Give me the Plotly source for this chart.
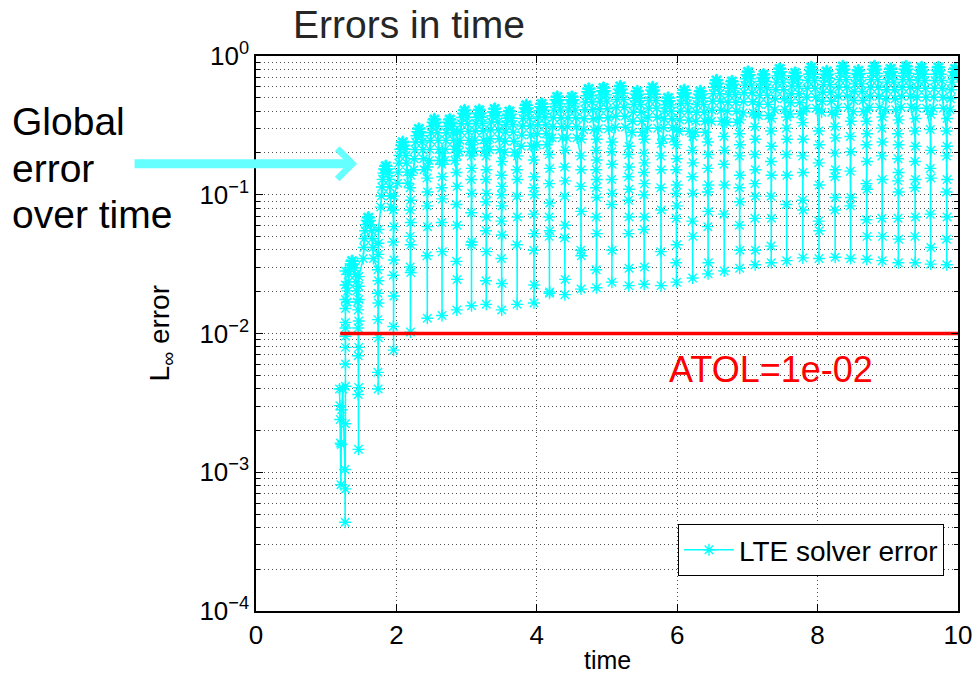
import plotly.graph_objects as go

# ---------------------------------------------------------------------------
# Data: L-infinity error of the LTE-controlled solver over time
# (all error levels are stored as log10 exponents)
# ---------------------------------------------------------------------------

# start-up transient just after t = 1.2
start_t = [1.19, 1.195, 1.20, 1.205, 1.21, 1.215, 1.22, 1.235]
start_log = [-2.40, -2.52, -2.62, -2.79, -3.09, -2.80, -2.55, -2.40]

# time and level of each error minimum (trough)
trough_t = [1.27, 1.46, 1.74, 1.96, 2.20, 2.44, 2.65, 2.86, 3.07, 3.28,
            3.50, 3.72, 3.96, 4.18, 4.40, 4.63, 4.85, 5.07, 5.31, 5.53,
            5.77, 5.99, 6.22, 6.44, 6.67, 6.89, 7.11, 7.34, 7.56, 7.79,
            8.02, 8.25, 8.47, 8.70, 8.92, 9.15, 9.39, 9.61, 9.84]
trough_log = [-3.36, -2.835, -2.40, -2.12, -1.99, -1.89, -1.87, -1.83, -1.80, -1.79,
              -1.83, -1.79, -1.78, -1.71, -1.72, -1.68, -1.67, -1.63, -1.655, -1.645,
              -1.655, -1.63, -1.60, -1.57, -1.55, -1.53, -1.505, -1.49, -1.475, -1.455,
              -1.46, -1.45, -1.46, -1.465, -1.475, -1.49, -1.49, -1.50, -1.505]

# time and level of each error maximum (peak) following a trough
peak_t = [1.37, 1.60, 1.85, 2.09, 2.32, 2.54, 2.76, 2.97, 3.18, 3.40,
          3.61, 3.85, 4.07, 4.29, 4.50, 4.74, 4.95, 5.19, 5.43, 5.65,
          5.87, 6.10, 6.33, 6.56, 6.78, 7.01, 7.23, 7.46, 7.68, 7.91,
          8.13, 8.36, 8.58, 8.81, 9.04, 9.26, 9.48, 9.72, 9.96]
peak_log = [-1.473, -1.160, -0.789, -0.617, -0.520, -0.453, -0.453, -0.388, -0.386, -0.376,
            -0.394, -0.350, -0.340, -0.290, -0.290, -0.232, -0.225, -0.214, -0.250, -0.221,
            -0.297, -0.242, -0.250, -0.171, -0.178, -0.110, -0.129, -0.088, -0.117, -0.077,
            -0.106, -0.070, -0.101, -0.070, -0.088, -0.070, -0.077, -0.077, -0.088]

# intermediate step errors recorded around each trough (small time steps)
column_log = [
    [-1.55, -1.65, -1.755, -1.82, -1.92, -1.96, -2.02, -2.10, -2.22, -2.38, -2.65, -2.98, -3.12],
    [-1.59, -1.66, -1.755, -1.83, -1.91, -1.96, -2.10, -2.16, -2.39, -2.44],
    [-1.25, -1.35, -1.43, -1.54, -1.62, -1.71, -1.78, -1.90, -2.03, -2.28],
    [-1.01, -1.11, -1.23, -1.34, -1.47, -1.58, -1.73, -1.95],
    [-0.86, -0.95, -1.04, -1.11, -1.20, -1.30, -1.36, -1.52, -1.56],
    [-0.80, -0.88, -0.98, -1.08, -1.23, -1.44],
    [-0.70, -0.78, -0.87, -0.95, -1.03, -1.20, -1.41],
    [-0.55, -0.65, -0.72, -0.84, -0.94, -1.07, -1.22, -1.48, -1.61],
    [-0.64, -0.72, -0.81, -0.89, -0.99, -1.13, -1.34, -1.36],
    [-0.63, -0.72, -0.82, -0.89, -0.99, -1.05, -1.16, -1.26, -1.41, -1.62],
    [-0.76, -0.86, -0.94, -1.00, -1.08, -1.19, -1.29, -1.46, -1.64],
    [-0.72, -0.82, -0.89, -1.01, -1.16, -1.36],
    [-0.65, -0.75, -0.87, -0.95, -1.00, -1.14, -1.28, -1.40, -1.65],
    [-0.59, -0.71, -0.81, -0.92, -1.06, -1.16, -1.26, -1.30, -1.70],
    [-0.68, -0.80, -0.90, -1.01, -1.22, -1.31, -1.61],
    [-0.60, -0.72, -0.82, -0.94, -1.12, -1.40, -1.44],
    [-0.60, -0.68, -0.75, -0.82, -0.89, -0.95, -1.02, -1.16, -1.28, -1.54],
    [-0.62, -0.69, -0.78, -0.89, -0.99, -1.07, -1.40],
    [-0.65, -0.71, -0.80, -0.87, -0.96, -1.04, -1.16, -1.28, -1.53],
    [-0.60, -0.70, -0.77, -0.84, -0.92, -1.00, -1.16, -1.25, -1.52],
    [-0.63, -0.72, -0.82, -0.95, -1.11, -1.41],
    [-0.53, -0.64, -0.74, -0.82, -0.93, -0.99, -1.08, -1.17, -1.36, -1.49],
    [-0.58, -0.68, -0.77, -0.87, -0.99, -1.19, -1.30],
    [-0.46, -0.62, -0.71, -0.81, -0.93, -0.98, -1.12, -1.23, -1.49],
    [-0.47, -0.58, -0.68, -0.78, -0.93, -1.14],
    [-0.46, -0.56, -0.64, -0.72, -0.86, -0.95, -1.05, -1.22, -1.40],
    [-0.42, -0.51, -0.60, -0.71, -0.82, -0.92, -1.01, -1.17, -1.40],
    [-0.45, -0.54, -0.65, -0.76, -0.86, -1.01, -1.17, -1.37],
    [-0.44, -0.52, -0.60, -0.71, -0.86, -1.07],
    [-0.40, -0.48, -0.60, -0.72, -0.84, -1.04, -1.11],
    [-0.39, -0.54, -0.64, -0.77, -0.93, -1.19, -1.26],
    [-0.42, -0.51, -0.59, -0.70, -0.82, -0.87, -1.02, -1.11],
    [-0.47, -0.58, -0.69, -0.83, -1.02, -1.08],
    [-0.39, -0.47, -0.56, -0.64, -0.76, -0.92, -0.96, -1.18, -1.30],
    [-0.44, -0.52, -0.62, -0.72, -0.89, -1.17, -1.30],
    [-0.46, -0.56, -0.64, -0.74, -0.84, -0.90, -0.98, -1.17, -1.32],
    [-0.45, -0.54, -0.65, -0.76, -0.89, -0.95, -1.16, -1.30],
    [-0.42, -0.53, -0.68, -0.81, -0.88, -1.14, -1.38],
    [-0.45, -0.54, -0.65, -0.72, -0.89, -0.98, -1.16, -1.32],
]

# steps clustered around every maximum: offset in time / in log10 error
peak_step_dt = [-0.073, -0.065, -0.056, -0.046, -0.035, -0.024, -0.012, 0.0,
                0.012, 0.024, 0.035, 0.046, 0.056, 0.065, 0.073]
peak_step_dlog = [-0.30, -0.22, -0.155, -0.10, -0.055, -0.025, -0.006, 0.0,
                  -0.006, -0.025, -0.055, -0.10, -0.155, -0.22, -0.30]

atol = 1e-2
atol_t = [1.2, 10.0]

# ---------------------------------------------------------------------------
# Assemble the time series in step order
# ---------------------------------------------------------------------------
t_pts = list(start_t)
log_pts = list(start_log)
for k, tt in enumerate(trough_t):
    prev = log_pts[-1]
    levels = sorted(column_log[k], reverse=True)
    down = [lv for i, lv in enumerate(levels) if i % 2 == 1 and lv < prev]
    up = [lv for lv in levels if lv not in down]
    for lv in down:
        t_pts.append(tt - 0.004)
        log_pts.append(lv)
    t_pts.append(tt)
    log_pts.append(trough_log[k])
    for lv in sorted(up):
        t_pts.append(tt + 0.004)
        log_pts.append(lv)
    for dt, dl in zip(peak_step_dt, peak_step_dlog):
        if peak_t[k] + dt <= 10.0:
            t_pts.append(peak_t[k] + dt)
            log_pts.append(peak_log[k] + dl)

err_pts = [10 ** v for v in log_pts]

# ---------------------------------------------------------------------------
# Figure
# ---------------------------------------------------------------------------
FONT = "Liberation Sans, Arial, Helvetica, sans-serif"
CYAN = "#00ffff"

fig = go.Figure()

fig.add_trace(go.Scatter(
    x=t_pts, y=err_pts, mode="lines+markers",
    name="LTE solver error",
    line=dict(color=CYAN, width=1.5),
    marker=dict(symbol="asterisk-open", size=10, color=CYAN,
                line=dict(color=CYAN, width=1.4)),
))

fig.add_trace(go.Scatter(
    x=atol_t, y=[atol, atol], mode="lines",
    line=dict(color="#ff0000", width=3.5),
    showlegend=False, hoverinfo="skip",
))

decades = [1e-4, 1e-3, 1e-2, 1e-1, 1e0]
decade_text = ["10<sup>−4</sup>", "10<sup>−3</sup>", "10<sup>−2</sup>",
               "10<sup>−1</sup>", "10<sup>0</sup>"]
minor_vals = [m * d for d in decades[:-1] for m in range(2, 10)]

grid_col = "#505050"
grid_dash = "1px,3px"

fig.update_xaxes(
    range=[0, 10], tickvals=[0, 2, 4, 6, 8, 10], automargin=False,
    ticks="inside", ticklen=7, tickwidth=1, tickcolor="black",
    showline=True, linecolor="black", linewidth=1.5, mirror="ticks",
    showgrid=True, gridcolor=grid_col, griddash=grid_dash, gridwidth=1,
    zeroline=False,
    tickfont=dict(family=FONT, size=26, color="black"),
)
fig.update_yaxes(
    type="log", range=[-4, 0], automargin=False,
    tickvals=decades, ticktext=decade_text,
    ticks="inside", ticklen=7, tickwidth=1, tickcolor="black",
    showline=True, linecolor="black", linewidth=1.5, mirror="ticks",
    showgrid=True, gridcolor=grid_col, griddash=grid_dash, gridwidth=1,
    minor=dict(tickvals=minor_vals, ticks="inside", ticklen=4,
               tickcolor="black", showgrid=True, gridcolor=grid_col,
               griddash=grid_dash, gridwidth=1),
    zeroline=False,
    tickfont=dict(family=FONT, size=26, color="black"),
)

fig.update_layout(
    width=974, height=673,
    margin=dict(l=256, r=16, t=56, b=62, autoexpand=False),
    paper_bgcolor="white", plot_bgcolor="white",
    font=dict(family=FONT, color="black"),
    title=dict(text="Errors in time", x=409 / 974, xanchor="center",
               y=1 - 24 / 673, yanchor="middle", yref="container",
               font=dict(family=FONT, size=39, color="#262626")),
    legend=dict(x=0.98, xanchor="right", y=0.063, yanchor="bottom",
                bgcolor="white", bordercolor="black", borderwidth=1,
                itemwidth=50,
                font=dict(family=FONT, size=28, color="black")),
    showlegend=True,
)

# axis titles
fig.add_annotation(text="time", xref="paper", yref="paper", x=0.5, y=-0.088,
                   xanchor="center", yanchor="middle", showarrow=False,
                   font=dict(family=FONT, size=25, color="black"))
fig.add_annotation(text="L<sub>∞</sub> error", xref="paper", yref="paper",
                   x=-0.134, y=0.5, xanchor="center", yanchor="middle",
                   textangle=-90, showarrow=False,
                   font=dict(family=FONT, size=28, color="black"))

# tolerance label
fig.add_annotation(text="ATOL=1e-02", x=7.34, y=-2.26, xref="x", yref="y",
                   showarrow=False, xanchor="center", yanchor="middle",
                   font=dict(family=FONT, size=36, color="#ff0000"))

# call-out on the left
for line, ypx in [("Global", 121), ("error", 168), ("over time", 214)]:
    fig.add_annotation(text=line, xref="paper", yref="paper",
                       x=(10 - 256) / 702, y=(611 - ypx) / 555,
                       xanchor="left", yanchor="middle", showarrow=False,
                       font=dict(family=FONT, size=39, color="black"))
fig.add_annotation(text="", x=1.44, y=-0.777, xref="x", yref="y",
                   showarrow=True, ax=-224, ay=0,
                   arrowcolor="#66ffff", arrowwidth=9, arrowhead=4,
                   arrowsize=0.65, standoff=0)

fig.write_html("out.html")
